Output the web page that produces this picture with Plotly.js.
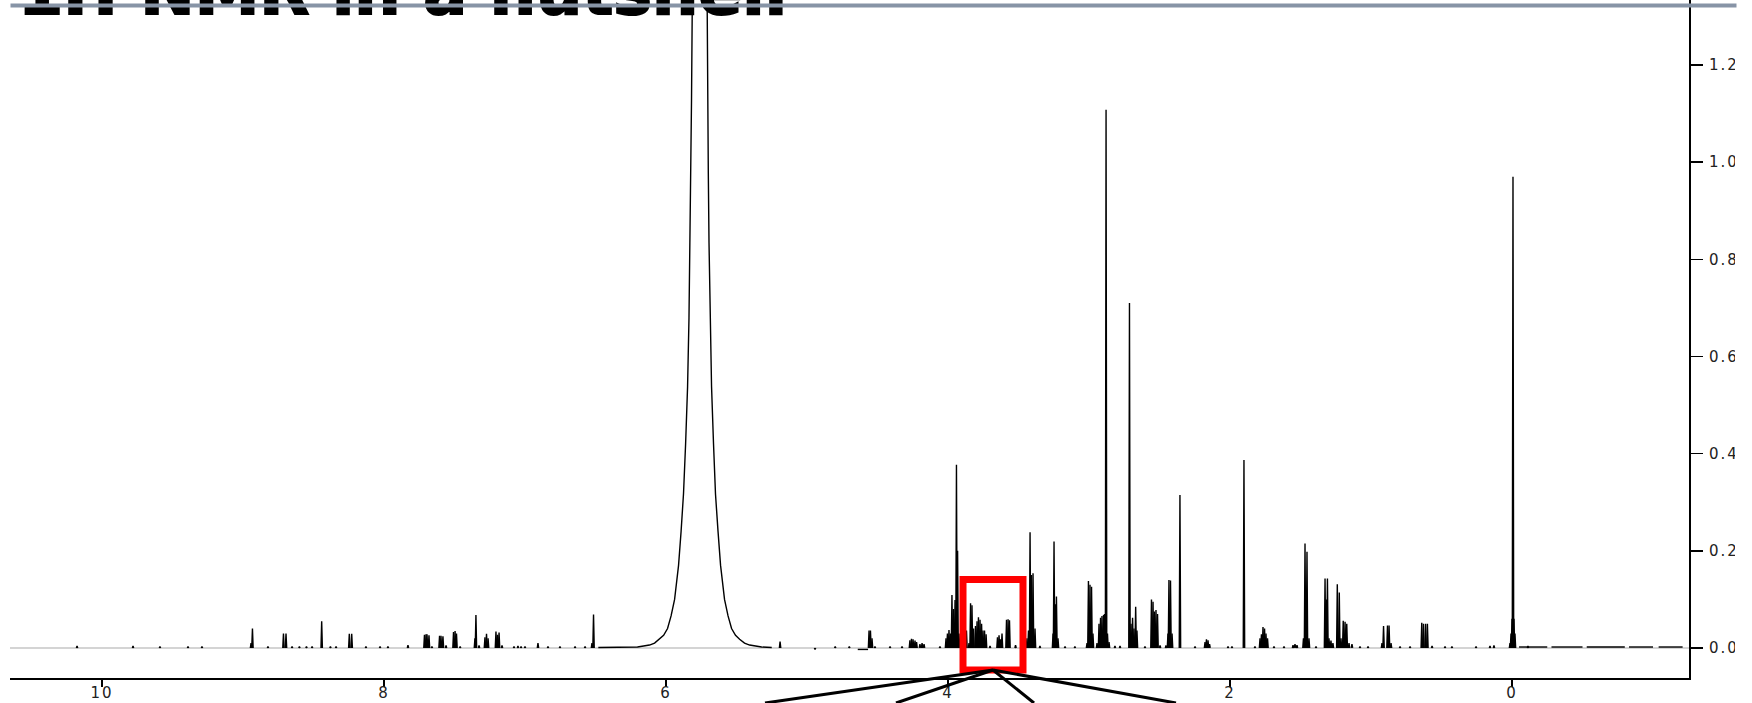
<!DOCTYPE html>
<html>
<head>
<meta charset="utf-8">
<script src="https://cdn.plot.ly/plotly-3.0.1.min.js"></script>
<style>
  html, body { margin: 0; padding: 0; background: #fff; }
  #chart { width: 1752px; height: 703px; }
  .xtick text, .ytick text { letter-spacing: 2px; }
  .annotation-text { stroke: #000; stroke-width: 2px; }
</style>
</head>
<body>
<div id="chart"></div>
<script>
// ---- Data (chemical shift in ppm, intensity) ----
// Aromatic / downfield region
const aromaticPpm = [10.177, 9.780, 9.589, 9.390, 9.291, 8.943, 8.933, 8.823, 8.713, 8.695, 8.652, 8.600, 8.550, 8.510, 8.442, 8.380, 8.340, 8.246, 8.229, 8.128, 8.028, 7.972, 7.830, 7.713, 7.702, 7.695, 7.681, 7.660, 7.606, 7.596, 7.582, 7.560, 7.507, 7.496, 7.486, 7.460, 7.355, 7.348, 7.326, 7.284, 7.273, 7.262, 7.206, 7.195, 7.184, 7.163, 7.078, 7.050, 7.028, 7.000, 6.908, 6.837, 6.752, 6.645, 6.574, 6.525, 6.514];
const aromaticInt = [0.004, 0.004, 0.003, 0.003, 0.003, 0.010, 0.040, 0.003, 0.030, 0.030, 0.003, 0.003, 0.003, 0.003, 0.055, 0.003, 0.003, 0.029, 0.029, 0.003, 0.003, 0.003, 0.006, 0.027, 0.028, 0.028, 0.026, 0.003, 0.025, 0.025, 0.024, 0.005, 0.033, 0.035, 0.030, 0.003, 0.020, 0.068, 0.005, 0.022, 0.029, 0.020, 0.034, 0.027, 0.032, 0.005, 0.003, 0.004, 0.003, 0.003, 0.010, 0.003, 0.003, 0.003, 0.003, 0.010, 0.069];

// Broad solvent (water) signal profile
const waterPpm = [6.480, 6.300, 6.202, 6.159, 6.117, 6.081, 6.046, 6.017, 5.989, 5.964, 5.939, 5.911, 5.893, 5.876, 5.861, 5.847, 5.837, 5.829, 5.824, 5.819, 5.813, 5.805, 5.762,
                  5.719, 5.711, 5.706, 5.700, 5.695, 5.688, 5.677, 5.663, 5.649, 5.631, 5.613, 5.585, 5.560, 5.535, 5.507, 5.478, 5.443, 5.407, 5.365, 5.322, 5.250];
const waterInt = [0.001, 0.002, 0.002, 0.004, 0.006, 0.010, 0.018, 0.026, 0.040, 0.066, 0.100, 0.170, 0.240, 0.317, 0.420, 0.538, 0.680, 0.834, 0.980, 1.128, 1.350, 1.800, 25.0,
                  1.800, 1.350, 1.128, 0.980, 0.834, 0.680, 0.538, 0.420, 0.317, 0.240, 0.170, 0.100, 0.066, 0.040, 0.026, 0.018, 0.010, 0.006, 0.004, 0.002, 0.001];

// 5.2 - 3.3 ppm region
const midPpm = [5.191, 4.943, 4.800, 4.700, 4.560, 4.550, 4.539, 4.518, 4.411, 4.326, 4.270, 4.259, 4.248, 4.234, 4.223, 4.199, 4.184, 4.170, 4.057, 4.014, 4.004, 3.993, 3.982, 3.972, 3.961, 3.950, 3.940, 3.932, 3.922, 3.901, 3.869, 3.851, 3.840, 3.830, 3.819, 3.805, 3.794, 3.784, 3.773, 3.762, 3.752, 3.741, 3.730, 3.702, 3.649, 3.638, 3.628, 3.617, 3.585, 3.574, 3.564, 3.521, 3.440, 3.429, 3.418, 3.408, 3.397, 3.383, 3.348];
const midInt = [0.013, -0.003, 0.003, 0.003, 0.036, 0.036, 0.020, 0.003, 0.003, 0.003, 0.016, 0.019, 0.018, 0.015, 0.012, 0.008, 0.010, 0.008, 0.003, 0.020, 0.030, 0.037, 0.030, 0.109, 0.080, 0.099, 0.377, 0.200, 0.030, 0.005, 0.036, 0.010, 0.092, 0.088, 0.040, 0.045, 0.055, 0.063, 0.058, 0.050, 0.036, 0.036, 0.028, 0.004, 0.022, 0.026, 0.018, 0.030, 0.058, 0.059, 0.057, 0.006, 0.020, 0.036, 0.238, 0.150, 0.154, 0.040, 0.004];

// 3.3 - 1.8 ppm region
const aliphaticPpm = [3.255, 3.248, 3.238, 3.231, 3.220, 3.170, 3.100, 3.014, 3.004, 2.993, 2.982, 2.972, 2.943, 2.929, 2.918, 2.908, 2.897, 2.890, 2.879, 2.869, 2.858, 2.816, 2.780, 2.713, 2.702, 2.691, 2.681, 2.669, 2.660, 2.603, 2.557, 2.546, 2.536, 2.525, 2.514, 2.496, 2.454, 2.440, 2.433, 2.422, 2.411, 2.355, 2.248, 2.177, 2.167, 2.156, 2.145, 2.014, 1.986, 1.901, 1.823];
const aliphaticInt = [0.030, 0.219, 0.090, 0.106, 0.020, 0.003, 0.003, 0.010, 0.138, 0.130, 0.126, 0.030, 0.010, 0.050, 0.062, 0.066, 0.068, 0.070, 1.108, 0.030, 0.012, 0.004, 0.004, 0.710, 0.050, 0.062, 0.040, 0.085, 0.036, 0.003, 0.100, 0.095, 0.075, 0.078, 0.070, 0.005, 0.005, 0.030, 0.140, 0.139, 0.030, 0.315, 0.003, 0.012, 0.018, 0.016, 0.008, 0.003, 0.003, 0.387, 0.003];

// 1.8 ppm to reference (0 ppm) region
const upfieldPpm = [1.787, 1.777, 1.766, 1.755, 1.745, 1.734, 1.688, 1.617, 1.553, 1.539, 1.525, 1.479, 1.468, 1.454, 1.440, 1.390, 1.326, 1.316, 1.309, 1.298, 1.284, 1.270, 1.239, 1.225, 1.213, 1.197, 1.184, 1.172, 1.156, 1.135, 1.078, 1.021, 0.922, 0.911, 0.883, 0.872, 0.858, 0.794, 0.723, 0.640, 0.628, 0.613, 0.600, 0.567, 0.475, 0.426, 0.255, 0.156, 0.128, 0.014, 0.007, 0.000, -0.007, -0.014, -0.021, -0.113];
const upfieldInt = [0.020, 0.028, 0.043, 0.040, 0.030, 0.020, 0.003, 0.003, 0.006, 0.008, 0.006, 0.020, 0.215, 0.198, 0.020, 0.003, 0.143, 0.100, 0.143, 0.020, 0.015, 0.010, 0.131, 0.114, 0.020, 0.056, 0.054, 0.050, 0.010, 0.008, 0.003, 0.003, 0.010, 0.045, 0.046, 0.046, 0.010, 0.003, 0.003, 0.052, 0.050, 0.050, 0.050, 0.004, 0.003, 0.003, 0.003, 0.004, 0.005, 0.010, 0.030, 0.060, 0.970, 0.060, 0.030, 0.004];

// Baseline noise segments (null = gap)
const noisePpm = [4.640, 4.567, null, -0.050, -0.250, null, -0.280, -0.500, null, -0.530, -0.800, null, -0.830, -1.000, null, -1.040, -1.210];
const noiseInt = [-0.003, -0.003, null, 0.002, 0.002, null, 0.002, 0.002, null, 0.002, 0.002, null, 0.002, 0.002, null, 0.002, 0.002];

// Axis ticks
const xTickVals = [10, 8, 6, 4, 2, 0];
const yTickVals = [0, 0.2, 0.4, 0.6, 0.8, 1.0, 1.2];
const titleText = '1H NMR in a nutshell';

// ---- Build the line trace ----
const HW = 0.005; // half base width of a sharp line, ppm
const specX = [], specY = [];
function addLines(px, py) {
  const n = Math.min(px.length, py.length);
  for (let i = 0; i < n; i++) {
    specX.push(px[i] + HW, px[i], px[i] - HW, null);
    specY.push(0, py[i], 0, null);
  }
}
addLines(aromaticPpm, aromaticInt);
specX.push(...waterPpm, null); specY.push(...waterInt, null);
addLines(midPpm, midInt);
addLines(aliphaticPpm, aliphaticInt);
addLines(upfieldPpm, upfieldInt);
specX.push(...noisePpm); specY.push(...noiseInt);

const trace = {
  x: specX, y: specY, type: 'scatter', mode: 'lines',
  line: {color: '#000', width: 1.4}, connectgaps: false, hoverinfo: 'skip'
};

const tickFont = {family: 'DejaVu Sans', size: 15, color: '#222'};

const layout = {
  width: 1752, height: 703,
  margin: {l: 10, r: 63, t: 0, b: 25, pad: 0},
  paper_bgcolor: '#fff', plot_bgcolor: '#fff',
  showlegend: false,
  xaxis: {
    range: [10.6525, -1.2553], autorange: false,
    tickvals: xTickVals, tickformat: 'd',
    showline: true, linecolor: '#000', linewidth: 2, mirror: false,
    ticks: 'outside', ticklen: 7, tickwidth: 2, tickcolor: '#000',
    ticklabelstandoff: -7,
    showgrid: false, zeroline: false, tickfont: tickFont
  },
  yaxis: {
    side: 'right', range: [-0.0618, 1.3339], autorange: false,
    tickvals: yTickVals, tickformat: '.1f',
    showline: true, linecolor: '#000', linewidth: 2, mirror: false,
    ticks: 'outside', ticklen: 12, tickwidth: 1.5, tickcolor: '#000',
    ticklabelstandoff: 3,
    showgrid: false, zeroline: true, zerolinecolor: '#d4d4d4', zerolinewidth: 2,
    tickfont: tickFont
  },
  shapes: [
    {type: 'rect', xref: 'x', yref: 'y', x0: 3.8936, x1: 3.4681, y0: -0.0453, y1: 0.141,
     line: {color: '#ff0000', width: 7}, fillcolor: 'rgba(0,0,0,0)', layer: 'above'},
    {type: 'line', xref: 'paper', yref: 'paper', x0: 0.58547, y0: 0.0118, x1: 0.44967, y1: -0.0369, line: {color: '#000', width: 3}},
    {type: 'line', xref: 'paper', yref: 'paper', x0: 0.58547, y0: 0.0118, x1: 0.52770, y1: -0.0369, line: {color: '#000', width: 3}},
    {type: 'line', xref: 'paper', yref: 'paper', x0: 0.58547, y0: 0.0118, x1: 0.60989, y1: -0.0369, line: {color: '#000', width: 3}},
    {type: 'line', xref: 'paper', yref: 'paper', x0: 0.58547, y0: 0.0118, x1: 0.69446, y1: -0.0369, line: {color: '#000', width: 3}},
    // the screenshot ends here: blank strip at the right edge
    {type: 'rect', xref: 'paper', yref: 'paper', x0: 1.0274, x1: 1.06, y0: -0.1, y1: 1.1,
     line: {width: 0}, fillcolor: '#ffffff', layer: 'above'}
  ],
  annotations: [
    {text: titleText, xref: 'paper', yref: 'paper', x: 0.0042, y: 0.9558,
     xanchor: 'left', yanchor: 'bottom', showarrow: false, borderpad: 0,
     font: {family: 'DejaVu Sans', size: 65, color: '#000', weight: 'bold'}},
    {text: ' ', xref: 'paper', yref: 'paper', x: 0, y: 0.9919,
     xanchor: 'left', yanchor: 'middle', showarrow: false, borderpad: 0,
     width: 1725, height: 3, bgcolor: '#8794a6', font: {size: 2, color: '#8794a6'}}
  ]
};

Plotly.newPlot('chart', [trace], layout, {staticPlot: true, displayModeBar: false});
</script>
</body>
</html>
